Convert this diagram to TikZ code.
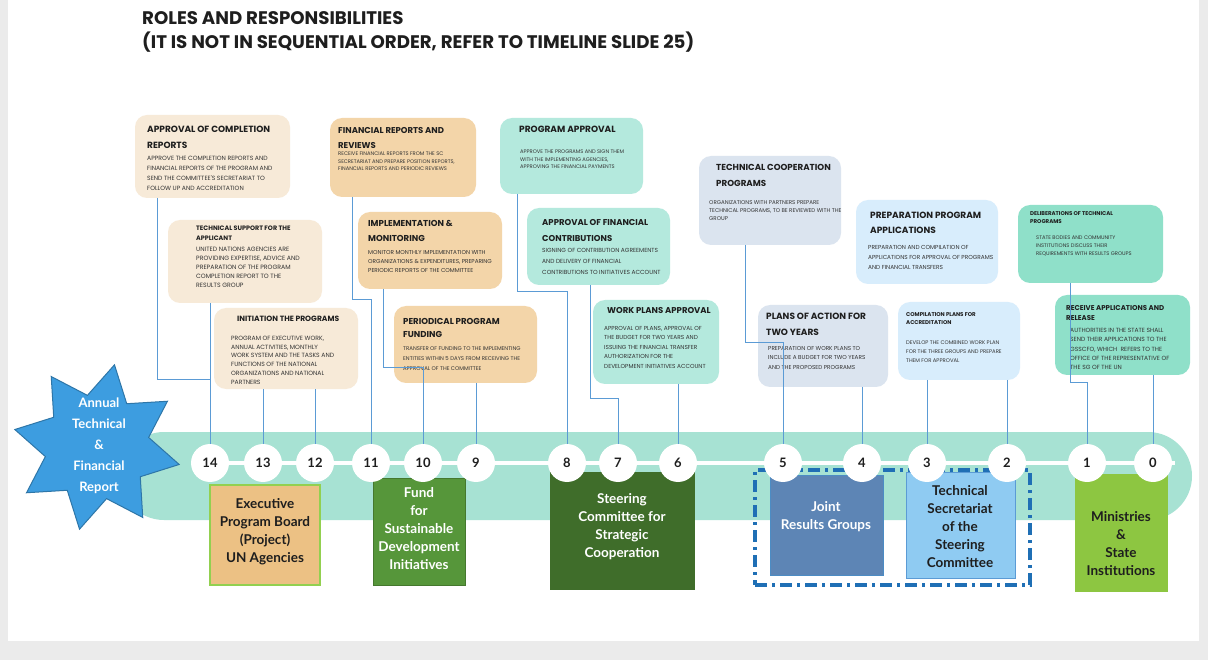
\documentclass[tikz,border=0pt]{standalone}
\usepackage{fontspec}
\setmainfont{Lato}
\newfontfamily\gothic{Poppins}
\usetikzlibrary{shapes.geometric}

\definecolor{pagegrey}{HTML}{EBEBEB}
\definecolor{cream}{HTML}{F7EAD8}
\definecolor{tanbox}{HTML}{F3D5A9}
\definecolor{mintbox}{HTML}{B4E9DD}
\definecolor{greyblue}{HTML}{DBE4EF}
\definecolor{paleblue}{HTML}{D8EDFC}
\definecolor{tealbox}{HTML}{8FE0C9}
\definecolor{bandmint}{HTML}{A7E2D3}
\definecolor{starblue}{HTML}{3D9DE0}
\definecolor{connblue}{HTML}{5B9BD5}
\definecolor{ink}{HTML}{1E1E1E}
\definecolor{inkbody}{HTML}{333333}
\definecolor{exectan}{HTML}{ECC184}
\definecolor{limeline}{HTML}{92D050}
\definecolor{fundgreen}{HTML}{56963A}
\definecolor{steergreen}{HTML}{3F6D2A}
\definecolor{framblue}{HTML}{1F6FB5}
\definecolor{jointblue}{HTML}{5D85B5}
\definecolor{secblue}{HTML}{8FCBF2}
\definecolor{minlime}{HTML}{8DC641}

\begin{document}
\begin{tikzpicture}[x=1pt,y=-1pt,
  ibox/.style={rectangle, rounded corners=12pt, inner sep=0pt, outer sep=0pt, anchor=north west},
  ttl/.style={inner sep=0pt, anchor=north west, align=left, text=ink,
    font=\gothic\bfseries\fontsize{8.7}{16}\selectfont},
  bdy/.style={inner sep=0pt, anchor=north west, align=left, text=inkbody,
    font=\gothic\fontsize{5.8}{10}\selectfont},
  conn/.style={draw=connblue, line width=1pt},
  num/.style={circle, fill=white, minimum size=38pt, inner sep=0pt, text=ink,
    font=\bfseries\fontsize{13}{13}\selectfont},
  bbox/.style={rectangle, inner sep=0pt, outer sep=0pt, anchor=north west},
  blabel/.style={align=center, inner sep=0pt, font=\bfseries\fontsize{13.5}{18}\selectfont},
]
\useasboundingbox (0,0) rectangle (1208,660);
% slide and page
\fill[pagegrey] (0,0) rectangle (1208,660);
\fill[white] (8,0) rectangle (1199,641);

% heading
\node[anchor=north west, inner sep=0pt, align=left, text=ink,
  font=\gothic\bfseries\fontsize{18.2}{24}\selectfont] (heading) at (142,11)
  {ROLES AND RESPONSIBILITIES\\(IT IS NOT IN SEQUENTIAL ORDER, REFER TO TIMELINE SLIDE 25)};

% timeline band
\fill[bandmint, rounded corners=44pt] (120,432) rectangle (1192,520);

% star badge
\node[star, star points=8, star point ratio=1.6, minimum size=168pt, rotate=-12,
  fill=starblue, draw=starblue!75!black, line width=1pt] (star) at (97,447) {};
\node[blabel, text=white, font=\bfseries\fontsize{13}{21}\selectfont] (startxt) at (99,446)
  {Annual\\Technical\\\&\\Financial\\Report};

% ---- upper boxes ----
\node[ibox, fill=cream, minimum width=155pt, minimum height=83pt] (A) at (135,115) {};
\node[ttl, font=\gothic\bfseries\fontsize{9}{16}\selectfont] (At) at (147,126) {APPROVAL OF COMPLETION\\REPORTS};
\node[bdy, font=\gothic\fontsize{6.1}{10}\selectfont] (Ab) at (147,156)
  {APPROVE THE COMPLETION REPORTS AND\\FINANCIAL REPORTS OF THE PROGRAM AND\\SEND THE COMMITTEE'S SECRETARIAT TO\\FOLLOW UP AND ACCREDITATION};

\node[ibox, fill=cream, minimum width=154pt, minimum height=83pt] (B) at (168,220) {};
\node[ttl, font=\gothic\bfseries\fontsize{6.4}{10}\selectfont] (Bt) at (196,226) {TECHNICAL SUPPORT FOR THE\\APPLICANT};
\node[bdy, font=\gothic\fontsize{6.2}{9}\selectfont] (Bb) at (196,247)
  {UNITED NATIONS AGENCIES ARE\\PROVIDING EXPERTISE, ADVICE AND\\PREPARATION OF THE PROGRAM\\COMPLETION REPORT TO THE\\RESULTS GROUP};

\node[ibox, fill=cream, minimum width=144pt, minimum height=81pt] (C) at (214,308) {};
\node[ttl, font=\gothic\bfseries\fontsize{7.6}{10}\selectfont] (Ct) at (237,316) {INITIATION THE PROGRAMS};
\node[bdy, font=\gothic\fontsize{6.1}{8.7}\selectfont] (Cb) at (231,336)
  {PROGRAM OF EXECUTIVE WORK,\\ANNUAL ACTIVITIES, MONTHLY\\WORK SYSTEM AND THE TASKS AND\\FUNCTIONS OF THE NATIONAL\\ORGANIZATIONS AND NATIONAL\\PARTNERS};

\node[ibox, fill=tanbox, minimum width=146pt, minimum height=79pt] (D) at (330,118) {};
\node[ttl, font=\gothic\bfseries\fontsize{8.5}{15}\selectfont] (Dt) at (338,127) {FINANCIAL REPORTS AND\\REVIEWS};
\node[bdy, font=\gothic\fontsize{5.2}{7.5}\selectfont] (Db) at (338,152)
  {RECEIVE FINANCIAL REPORTS FROM THE SC\\SECRETARIAT AND PREPARE POSITION REPORTS,\\FINANCIAL REPORTS AND PERIODIC REVIEWS};

\node[ibox, fill=tanbox, minimum width=144pt, minimum height=77pt] (E) at (358,212) {};
\node[ttl, font=\gothic\bfseries\fontsize{8.6}{15}\selectfont] (Et) at (368,220) {IMPLEMENTATION \&\\MONITORING};
\node[bdy, font=\gothic\fontsize{5.7}{9}\selectfont] (Eb) at (368,250)
  {MONITOR MONTHLY IMPLEMENTATION WITH\\ORGANIZATIONS \& EXPENDITURES, PREPARING\\PERIODIC REPORTS OF THE COMMITTEE};

\node[ibox, fill=tanbox, minimum width=143pt, minimum height=77pt] (F) at (394,306) {};
\node[ttl, font=\gothic\bfseries\fontsize{8.6}{13}\selectfont] (Ft) at (403,318) {PERIODICAL PROGRAM\\FUNDING};
\node[bdy, font=\gothic\fontsize{5.4}{10}\selectfont] (Fb) at (403,346)
  {TRANSFER OF FUNDING TO THE IMPLEMENTING\\ENTITIES WITHIN 5 DAYS FROM RECEIVING THE\\APPROVAL OF THE COMMITTEE};

\node[ibox, fill=mintbox, minimum width=143pt, minimum height=76pt] (G) at (500,118) {};
\node[ttl, font=\gothic\bfseries\fontsize{9}{16}\selectfont] (Gt) at (519,126) {PROGRAM APPROVAL};
\node[bdy, font=\gothic\fontsize{5.2}{7.5}\selectfont] (Gb) at (520,150)
  {APPROVE THE PROGRAMS AND SIGN THEM\\WITH THE IMPLEMENTING AGENCIES,\\APPROVING THE FINANCIAL PAYMENTS};

\node[ibox, fill=mintbox, minimum width=143pt, minimum height=77pt] (H) at (527,208) {};
\node[ttl, font=\gothic\bfseries\fontsize{8.5}{16}\selectfont] (Ht) at (542,219) {APPROVAL OF FINANCIAL\\CONTRIBUTIONS};
\node[bdy, font=\gothic\fontsize{5.9}{11}\selectfont] (Hb) at (542,248)
  {SIGNING OF CONTRIBUTION AGREEMENTS\\AND DELIVERY OF FINANCIAL\\CONTRIBUTIONS TO INITIATIVES ACCOUNT};

\node[ibox, fill=mintbox, minimum width=126pt, minimum height=84pt] (I) at (593,300) {};
\node[ttl, font=\gothic\bfseries\fontsize{8.5}{16}\selectfont] (It) at (607,307) {WORK PLANS APPROVAL};
\node[bdy, font=\gothic\fontsize{5.8}{9.5}\selectfont] (Ib) at (604,326)
  {APPROVAL OF PLANS, APPROVAL OF\\THE BUDGET FOR TWO YEARS AND\\ISSUING THE FINANCIAL TRANSFER\\AUTHORIZATION FOR THE\\DEVELOPMENT INITIATIVES ACCOUNT};

\node[ibox, fill=greyblue, minimum width=142pt, minimum height=89pt] (J) at (699,156) {};
\node[ttl, font=\gothic\bfseries\fontsize{8.7}{16}\selectfont] (Jt) at (716,164) {TECHNICAL COOPERATION\\PROGRAMS};
\node[bdy, font=\gothic\fontsize{5.5}{8}\selectfont] (Jb) at (709,200)
  {ORGANIZATIONS WITH PARTNERS PREPARE\\TECHNICAL PROGRAMS, TO BE REVIEWED WITH THE\\GROUP};

\node[ibox, fill=greyblue, minimum width=130pt, minimum height=82pt] (K) at (758,305) {};
\node[ttl, font=\gothic\bfseries\fontsize{9}{16}\selectfont] (Kt) at (766,313) {PLANS OF ACTION FOR\\TWO YEARS};
\node[bdy, font=\gothic\fontsize{5.7}{9.5}\selectfont] (Kb) at (768,346)
  {PREPARATION OF WORK PLANS TO\\INCLUDE A BUDGET FOR TWO YEARS\\AND THE PROPOSED PROGRAMS};

\node[ibox, fill=paleblue, minimum width=142pt, minimum height=84pt] (L) at (856,200) {};
\node[ttl, font=\gothic\bfseries\fontsize{9}{15}\selectfont] (Lt) at (870,212) {PREPARATION PROGRAM\\APPLICATIONS};
\node[bdy, font=\gothic\fontsize{5.8}{10}\selectfont] (Lb) at (868,245)
  {PREPARATION AND COMPILATION OF\\APPLICATIONS FOR APPROVAL OF PROGRAMS\\AND FINANCIAL TRANSFERS};

\node[ibox, fill=paleblue, minimum width=122pt, minimum height=78pt] (M) at (898,302) {};
\node[ttl, font=\gothic\bfseries\fontsize{5.5}{8}\selectfont] (Mt) at (906,312) {COMPILATION PLANS FOR\\ACCREDITATION};
\node[bdy, font=\gothic\fontsize{5.3}{9}\selectfont] (Mb) at (906,341)
  {DEVELOP THE COMBINED WORK PLAN\\FOR THE THREE GROUPS AND PREPARE\\THEM FOR APPROVAL};

\node[ibox, fill=tealbox, minimum width=145pt, minimum height=78pt] (N) at (1018,205) {};
\node[ttl, font=\gothic\bfseries\fontsize{5.5}{8}\selectfont] (Nt) at (1030,211) {DELIBERATIONS OF TECHNICAL\\PROGRAMS};
\node[bdy, font=\gothic\fontsize{5.2}{8}\selectfont] (Nb) at (1036,236)
  {STATE BODIES AND COMMUNITY\\INSTITUTIONS DISCUSS THEIR\\REQUIREMENTS WITH RESULTS GROUPS};

\node[ibox, fill=tealbox, minimum width=135pt, minimum height=80pt] (O) at (1055,295) {};
\node[ttl, font=\gothic\bfseries\fontsize{7}{10}\selectfont] (Ot) at (1066,305) {RECEIVE APPLICATIONS AND\\RELEASE};
\node[bdy, font=\gothic\fontsize{6}{9.3}\selectfont] (Ob) at (1070,328)
  {AUTHORITIES IN THE STATE SHALL\\SEND THEIR APPLICATIONS TO THE\\GSSCFO, WHICH\ \ REFERS TO THE\\OFFICE OF THE REPRESENTATIVE OF\\THE SG OF THE UN};

% ---- timeline stops ----
\coordinate (c14) at (210,463);
\coordinate (c13) at (263,463);
\coordinate (c12) at (315,463);
\coordinate (c11) at (371,463);
\coordinate (c10) at (423,463);
\coordinate (c9) at (476,463);
\coordinate (c8) at (567,463);
\coordinate (c7) at (618,463);
\coordinate (c6) at (678,463);
\coordinate (c5) at (783,463);
\coordinate (c4) at (862,463);
\coordinate (c3) at (927,463);
\coordinate (c2) at (1007,463);
\coordinate (c1) at (1087,463);
\coordinate (c0) at (1153,463);

% elbow points of the connectors
\coordinate (j14) at (210,380);
\coordinate (j11) at (371,300);
\coordinate (j10) at (423,368);
\coordinate (j8) at (567,292);
\coordinate (j7) at (618,398);
\coordinate (j5) at (783,343);
\coordinate (j1) at (1087,383);

% ---- bottom organisation boxes ----
\node[bbox, fill=exectan, draw=limeline, line width=1.5pt, minimum width=110pt, minimum height=100pt] (exec) at (210,485) {};
\node[blabel, text=ink] (execl) at (265,532) {Executive\\Program Board\\(Project)\\UN Agencies};

\node[bbox, fill=fundgreen, draw=fundgreen!80!black, line width=1pt, minimum width=92pt, minimum height=107pt] (fund) at (373,478) {};
\node[blabel, text=white] (fundl) at (419,529) {Fund\\for\\Sustainable\\Development\\Initiatives};

\node[bbox, fill=steergreen, minimum width=145pt, minimum height=118pt] (steer) at (550,472) {};
\node[blabel, text=white] (steerl) at (622,527) {Steering\\Committee for\\Strategic\\Cooperation};

\node[bbox, draw=framblue, line width=3.5pt, dash pattern=on 12pt off 5pt on 3pt off 5pt,
  minimum width=275pt, minimum height=115pt] (frame) at (755,470) {};

\node[bbox, fill=jointblue, draw=framblue!80, line width=1pt, minimum width=113pt, minimum height=100pt] (joint) at (770,475) {};
\node[blabel, text=white] (jointl) at (826,517) {Joint\\Results Groups};

\node[bbox, fill=secblue, draw=connblue, line width=1pt, minimum width=109pt, minimum height=106pt] (tsec) at (906,472) {};
\node[blabel, text=ink] (tsecl) at (960,527) {Technical\\Secretariat\\of the\\Steering\\Committee};

\node[bbox, fill=minlime, minimum width=93pt, minimum height=118pt] (mins) at (1075,474) {};
\node[blabel, text=ink] (minsl) at (1121,544) {Ministries\\\&\\State\\Institutions};

% ---- connectors ----
\draw[conn] ([xshift=22pt]A.south west) |- (j14);
\draw[conn] (B.south -| c14) -- (c14);
\draw[conn] (C.south -| c13) -- (c13);
\draw[conn] (C.south -| c12) -- (c12);
\draw[conn] ([xshift=22pt]D.south west) |- (j11) -- (c11);
\draw[conn] ([xshift=25pt]E.south west) |- (j10) -- (c10);
\draw[conn] (F.south -| c9) -- (c9);
\draw[conn] ([xshift=17pt]G.south west) |- (j8) -- (c8);
\draw[conn] ([xshift=63pt]H.south west) |- (j7) -- (c7);
\draw[conn] (I.south -| c6) -- (c6);
\draw[conn] ([xshift=46pt]J.south west) |- (j5) -- (c5);
\draw[conn] (K.south -| c4) -- (c4);
\draw[conn] (M.south -| c3) -- (c3);
\draw[conn] (M.south -| c2) -- (c2);
\draw[conn] ([xshift=52pt]N.south west) |- (j1) -- (c1);
\draw[conn] (O.south -| c0) -- (c0);

% white timeline and numbered stops
\draw[white, line width=3.5pt] ([xshift=-14pt]c14) -- ([xshift=22pt]c0);
\foreach \n in {14,13,...,0}
  \node[num] (n\n) at (c\n) {\n};
\end{tikzpicture}
\end{document}
